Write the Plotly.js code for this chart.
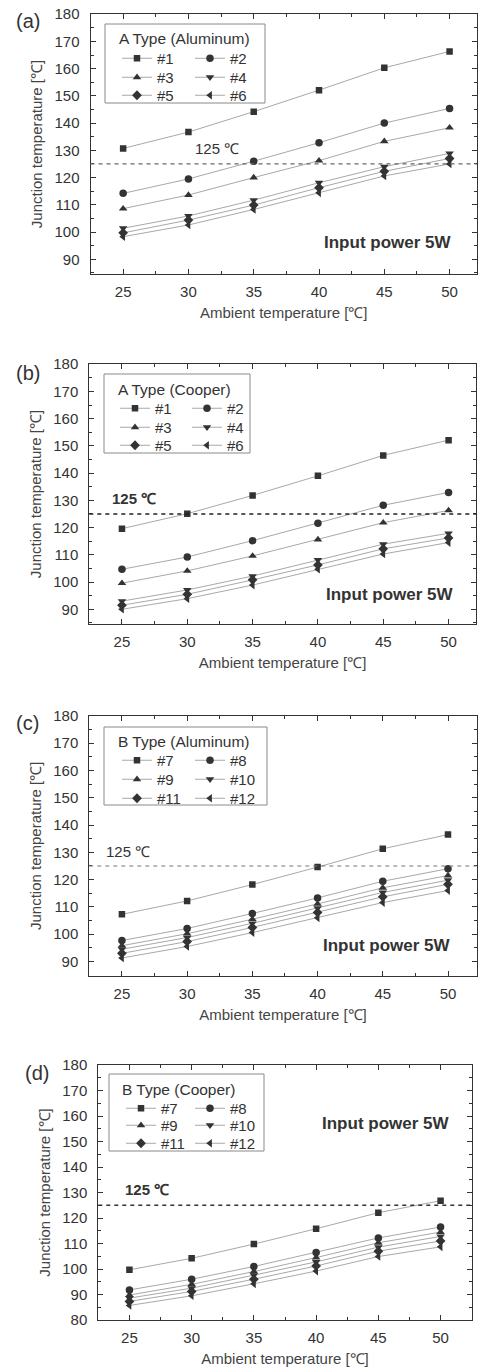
<!DOCTYPE html>
<html>
<head>
<meta charset="utf-8">
<script src="https://cdn.plot.ly/plotly-3.0.1.min.js"></script>
<style>
  html, body { margin: 0; padding: 0; background: #fff; }
  #chart { width: 480px; height: 1372px; }
</style>
</head>
<body>
<div id="chart"></div>
<script>
// ---------------- data ----------------
const ambientTemp = [25, 30, 35, 40, 45, 50];
const threshold = 125;

const labelsA = ['#1', '#2', '#3', '#4', '#5', '#6'];
const labelsB = ['#7', '#8', '#9', '#10', '#11', '#12'];

// (a) A Type (Aluminum)
const aAlu1 = [130.7, 136.7, 144.2, 152.1, 160.3, 166.3];
const aAlu2 = [114.2, 119.5, 126.0, 132.8, 140.0, 145.4];
const aAlu3 = [108.6, 113.6, 120.0, 126.2, 133.3, 138.3];
const aAlu4 = [101.4, 105.9, 111.7, 118.1, 124.0, 128.9];
const aAlu5 = [99.7, 104.4, 109.9, 116.3, 122.3, 127.0];
const aAlu6 = [98.3, 102.6, 108.3, 114.4, 120.6, 125.0];

// (b) A Type (Cooper)
const aCu1 = [119.6, 125.1, 131.8, 139.0, 146.5, 152.1];
const aCu2 = [104.7, 109.2, 115.2, 121.6, 128.2, 132.9];
const aCu3 = [99.6, 104.1, 109.6, 115.6, 121.8, 126.3];
const aCu4 = [93.0, 97.1, 102.2, 108.1, 113.9, 117.9];
const aCu5 = [91.5, 95.5, 100.8, 106.3, 112.2, 116.2];
const aCu6 = [90.0, 93.9, 98.9, 104.7, 110.3, 114.5];

// (c) B Type (Aluminum)
const bAlu7 = [107.3, 112.2, 118.2, 124.6, 131.3, 136.5];
const bAlu8 = [97.7, 102.1, 107.6, 113.3, 119.4, 124.0];
const bAlu9 = [95.8, 100.2, 105.5, 111.1, 117.0, 121.5];
const bAlu10 = [94.5, 98.8, 104.0, 109.6, 115.3, 119.8];
const bAlu11 = [93.0, 97.3, 102.5, 108.0, 113.7, 118.3];
const bAlu12 = [91.3, 95.5, 100.6, 106.0, 111.6, 116.0];

// (d) B Type (Cooper)
const bCu7 = [99.7, 104.2, 109.8, 115.8, 122.1, 126.8];
const bCu8 = [91.8, 96.0, 101.0, 106.5, 112.2, 116.5];
const bCu9 = [89.8, 94.0, 99.0, 104.5, 110.3, 114.5];
const bCu10 = [88.6, 92.5, 97.6, 102.8, 108.6, 112.8];
const bCu11 = [87.3, 91.2, 96.0, 101.2, 107.0, 111.0];
const bCu12 = [85.7, 89.5, 94.2, 99.2, 104.9, 108.7];

const panelTitles = ['A Type (Aluminum)', 'A Type (Cooper)', 'B Type (Aluminum)', 'B Type (Cooper)'];
const panelLetters = ['(a)', '(b)', '(c)', '(d)'];
const xTitle = 'Ambient temperature [℃]';
const yTitle = 'Junction temperature [℃]';
const thresholdLabel = '125 ℃';
const powerLabel = 'Input power 5W';

// ---------------- styling / layout ----------------
const W = 480, H = 1372;
const FONT = '"Liberation Sans", Arial, Helvetica, sans-serif';
const symbols = ['square', 'circle', 'triangle-up', 'triangle-down', 'diamond', 'triangle-left'];
const markerColor = '#333333';
const lineColor = '#a8a8a8';

const px = v => v / W;          // pixel -> paper x
const py = v => 1 - v / H;      // pixel -> paper y

// pixel geometry of each panel
const panels = [
  { series: [aAlu1, aAlu2, aAlu3, aAlu4, aAlu5, aAlu6], labels: labelsA,
    box: [90.5, 477, 14, 274], xr: [22.5, 52.1], yr: [84.6, 180.05], ytick0: 90,
    leg: [105, 265, 24, 103], legCols: [135, 208], legRows: [57, 76, 94], legTitle: [117, 39],
    thr: { x: 32.2, y: 130.6, bold: false }, pow: { x: 45.3, y: 96.1 },
    dash: { color: '#666', width: 1.2 }, letter: [28, 21] },
  { series: [aCu1, aCu2, aCu3, aCu4, aCu5, aCu6], labels: labelsA,
    box: [89.3, 476, 364, 624], xr: [22.5, 52.1], yr: [84.6, 180.05], ytick0: 90,
    leg: [104, 250, 374, 453], legCols: [133, 205], legRows: [407, 426, 444], legTitle: [116, 389],
    thr: { x: 25.9, y: 130.7, bold: true }, pow: { x: 45.5, y: 95.3 },
    dash: { color: '#222', width: 1.5 }, letter: [28, 373] },
  { series: [bAlu7, bAlu8, bAlu9, bAlu10, bAlu11, bAlu12], labels: labelsB,
    box: [89.3, 476.7, 715.7, 976], xr: [22.5, 52.2], yr: [84.7, 180.05], ytick0: 90,
    leg: [104, 267, 727, 805], legCols: [135, 208], legRows: [759, 778, 797], legTitle: [116, 741],
    thr: { x: 25.5, y: 130.2, bold: false }, pow: { x: 45.3, y: 95.7 },
    dash: { color: '#777', width: 1.2 }, letter: [27, 723] },
  { series: [bCu7, bCu8, bCu9, bCu10, bCu11, bCu12], labels: labelsB,
    box: [98.3, 471.7, 1065, 1320], xr: [22.5, 52.5], yr: [80, 180.05], ytick0: 80,
    leg: [109, 264, 1074, 1151], legCols: [139, 208], legRows: [1107, 1124, 1142], legTitle: [120, 1089],
    thr: { x: 26.4, y: 131.4, bold: true }, pow: { x: 45.6, y: 157.1 },
    dash: { color: '#333', width: 1.5 }, letter: [37, 1073] }
];

const traces = [];
const layout = {
  width: W, height: H,
  margin: { l: 0, r: 0, t: 0, b: 0 },
  paper_bgcolor: '#ffffff', plot_bgcolor: '#ffffff',
  font: { family: FONT, color: '#333' },
  showlegend: true,
  shapes: [], annotations: []
};

const legCommon = {
  xanchor: 'left', yanchor: 'top', bgcolor: 'rgba(0,0,0,0)', borderwidth: 0,
  font: { family: FONT, size: 15, color: '#333' }, tracegroupgap: 0,
  orientation: 'v', itemclick: false, itemdoubleclick: false
};

panels.forEach((p, i) => {
  const n = i === 0 ? '' : String(i + 1);
  const xa = 'x' + n, ya = 'y' + n;

  p.series.forEach((vals, k) => {
    const idx = i * 6 + k + 1;
    const legName = idx === 1 ? 'legend' : 'legend' + idx;
    traces.push({
      type: 'scatter', mode: 'lines+markers',
      x: ambientTemp, y: vals, name: p.labels[k],
      xaxis: xa, yaxis: ya, legend: legName,
      line: { color: lineColor, width: 1 },
      marker: { symbol: symbols[k], size: k === 0 ? 6.5 : 7.5, color: markerColor },
      hoverinfo: 'x+y+name'
    });
    const col = k % 2, row = Math.floor(k / 2);
    layout[legName] = Object.assign({}, legCommon, {
      x: px(p.legCols[col] - 18), y: py(p.legRows[row] - 15)
    });
  });

  const [l, r, t, b] = p.box;
  layout['xaxis' + n] = {
    domain: [px(l), px(r)], range: p.xr, anchor: ya,
    tick0: 25, dtick: 5, ticks: 'inside', ticklen: 5, tickwidth: 1, tickcolor: '#333',
    minor: { dtick: 2.5, tick0: 25, ticks: 'inside', ticklen: 3, tickcolor: '#333', showgrid: false },
    showline: true, linecolor: '#333', linewidth: 1, mirror: 'allticks',
    showgrid: false, zeroline: false, fixedrange: true,
    tickfont: { family: FONT, size: 15, color: '#333' }, ticklabelstandoff: 4,
    title: { text: xTitle, font: { family: FONT, size: 15, color: '#444' }, standoff: 8 }
  };
  layout['yaxis' + n] = {
    domain: [py(b), py(t)], range: p.yr, anchor: xa,
    tick0: p.ytick0, dtick: 10, ticks: 'inside', ticklen: 5, tickwidth: 1, tickcolor: '#333',
    minor: { dtick: 5, ticks: 'inside', ticklen: 3, tickcolor: '#333', showgrid: false },
    showline: true, linecolor: '#333', linewidth: 1, mirror: 'allticks',
    showgrid: false, zeroline: false, fixedrange: true,
    tickfont: { family: FONT, size: 15, color: '#333' }, ticklabelstandoff: 7,
    title: { text: yTitle, font: { family: FONT, size: 15, color: '#444' }, standoff: 8 }
  };

  // legend frame and legend heading
  layout.shapes.push({
    type: 'rect', xref: 'paper', yref: 'paper',
    x0: px(p.leg[0]), x1: px(p.leg[1]), y0: py(p.leg[3]), y1: py(p.leg[2]),
    line: { color: '#8a8a8a', width: 1 }, fillcolor: 'rgba(0,0,0,0)', layer: 'above'
  });
  layout.annotations.push({
    xref: 'paper', yref: 'paper', x: px(p.legTitle[0]), y: py(p.legTitle[1]), showarrow: false,
    text: panelTitles[i], font: { family: FONT, size: 15.5, color: '#333' },
    xanchor: 'left', yanchor: 'middle'
  });
  // 125 °C limit line
  layout.shapes.push({
    type: 'line', xref: xa + ' domain', yref: ya,
    x0: 0, x1: 1, y0: threshold, y1: threshold,
    line: { color: p.dash.color, width: p.dash.width, dash: '4px,4px' }, layer: 'above'
  });

  layout.annotations.push({
    xref: xa, yref: ya, x: p.thr.x, y: p.thr.y, showarrow: false,
    text: p.thr.bold ? '<b>' + thresholdLabel + '</b>' : thresholdLabel,
    font: { family: FONT, size: 15, color: '#333' }, xanchor: 'center', yanchor: 'middle'
  });
  layout.annotations.push({
    xref: xa, yref: ya, x: p.pow.x, y: p.pow.y, showarrow: false,
    text: '<b>' + powerLabel + '</b>',
    font: { family: FONT, size: 17, color: '#333' }, xanchor: 'center', yanchor: 'middle'
  });
  layout.annotations.push({
    xref: 'paper', yref: 'paper', x: px(p.letter[0]), y: py(p.letter[1]), showarrow: false,
    text: panelLetters[i], font: { family: FONT, size: 20, color: '#333' },
    xanchor: 'center', yanchor: 'middle'
  });
});

Plotly.newPlot('chart', traces, layout, { staticPlot: true, displayModeBar: false });
</script>
</body>
</html>
